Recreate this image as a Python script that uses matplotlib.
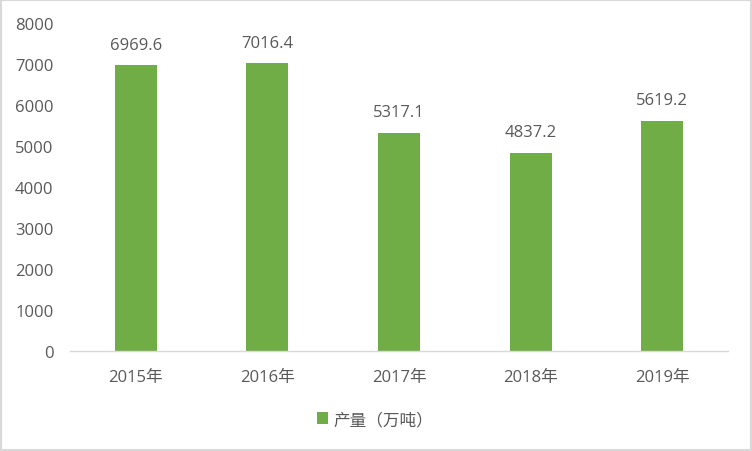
import matplotlib
matplotlib.use("Agg")
import matplotlib.pyplot as plt
from matplotlib.patches import Rectangle

plt.rcParams['font.family'] = ['Open Sans', 'Noto Sans CJK SC', 'DejaVu Sans']

categories = ['2015年', '2016年', '2017年', '2018年', '2019年']
values = [6969.6, 7016.4, 5317.1, 4837.2, 5619.2]
series_name = '产量（万吨）'
yticks = [0, 1000, 2000, 3000, 4000, 5000, 6000, 7000, 8000]

W, H = 752, 452
fig = plt.figure(figsize=(W/100, H/100), dpi=100)
ax = fig.add_axes([70/W, 1-352/H, (728-70)/W, (352-24)/H])

gray = '#595959'
fs = 12
bars = ax.bar(range(len(categories)), values, width=0.32, color='#70AD47', label=series_name)
for i, v in enumerate(values):
    ax.annotate(f'{v:.1f}', (i, v), xytext=(0, 9), textcoords='offset points',
                ha='center', va='bottom', fontsize=fs, color=gray)

ax.set_xlim(-0.5, len(categories)-0.5)
ax.set_ylim(0, 8000)
ax.set_yticks(yticks)
ax.set_yticklabels([str(t) for t in yticks])
ax.set_xticks(range(len(categories)))
ax.set_xticklabels(categories)
ax.tick_params(axis='both', length=0, labelsize=fs, labelcolor=gray)
ax.tick_params(axis='x', pad=13)
ax.tick_params(axis='y', pad=12)
for s in ['top', 'right', 'left']:
    ax.spines[s].set_visible(False)
ax.spines['bottom'].set_color('#D9D9D9')
ax.spines['bottom'].set_linewidth(1)

leg = fig.legend(handles=[bars], labels=[series_name], loc='center',
                 bbox_to_anchor=(375/W, 1-421/H), frameon=False, fontsize=fs,
                 handlelength=0.7, handleheight=0.7, handletextpad=0.3,
                 labelcolor=gray)

fig.patches.append(Rectangle((1/W, 1/H), (W-2)/W, (H-2)/H, transform=fig.transFigure,
                             fill=False, edgecolor='#D9D9D9', linewidth=1.5))

fig.savefig('out.png', dpi=100, facecolor='white')
